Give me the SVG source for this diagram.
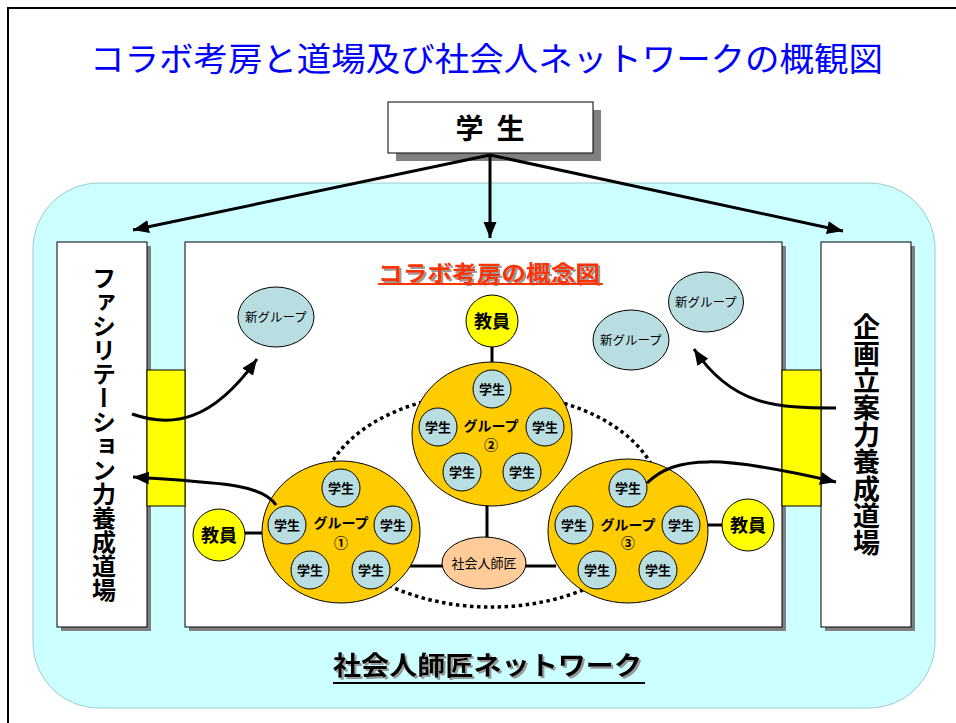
<svg xmlns="http://www.w3.org/2000/svg" width="956" height="723" viewBox="0 0 956 723">
<defs>
<marker id="ah" markerUnits="userSpaceOnUse" markerWidth="18" markerHeight="14" refX="16" refY="6.5" orient="auto"><path d="M0,0 L16,6.5 L0,13 z" fill="#000"/></marker>
<filter id="ts" x="-5%" y="-20%" width="110%" height="140%"><feDropShadow dx="2" dy="2" stdDeviation="0.3" flood-color="#999" flood-opacity="1"/></filter>
<style>
text{font-family:"Liberation Sans","Noto Sans CJK JP",sans-serif;fill:#000}
.b{font-weight:bold}
.st{font-size:13px;font-weight:bold;text-anchor:middle}
.gl{font-size:14px;font-weight:bold;text-anchor:middle}
.tc{font-size:18px;font-weight:bold;text-anchor:middle}
.ng{font-size:12.5px;text-anchor:middle}
.stu{fill:#B9DEE2;stroke:#000;stroke-width:1}
.grp{fill:#FFCC00;stroke:#000;stroke-width:1}
.tch{fill:#FFFF00;stroke:#000;stroke-width:1}
.box{fill:#fff;stroke:#000;stroke-width:1}
.sh{fill:#808080}
.ln{stroke:#000;stroke-width:3;fill:none}
.vt{font-weight:bold;writing-mode:vertical-rl;text-anchor:middle}
</style>
</defs>
<rect x="0" y="0" width="956" height="723" fill="#fff"/>
<rect x="8" y="8" width="960" height="730" fill="none" stroke="#000" stroke-width="2"/>
<text x="90" y="71" font-size="33" style="fill:#0000FF" textLength="793" lengthAdjust="spacingAndGlyphs">コラボ考房と道場及び社会人ネットワークの概観図</text>

<g id="network">
<rect x="33" y="183" width="902" height="525" rx="66" ry="66" fill="#CCFFFF" stroke="#9CC" stroke-width="1"/>
<text x="333" y="675" font-size="26" class="b" textLength="309" lengthAdjust="spacingAndGlyphs" filter="url(#ts)">社会人師匠ネットワーク</text>
<rect x="333" y="682" width="312" height="2" fill="#000"/>
</g>

<g id="student-top">
<rect x="396" y="110" width="205" height="51" class="sh"/>
<rect x="388" y="102" width="205" height="51" class="box"/>
<text x="490" y="139" font-size="28" class="b" text-anchor="middle" word-spacing="5">学 生</text>
</g>

<g id="facilitation">
<rect x="61" y="246" width="90" height="385" class="sh"/>
<rect x="57" y="242" width="90" height="385" class="box"/>
<text x="102" y="434" font-size="24" class="vt">ファシリテーション力養成道場</text>
</g>

<g id="planning">
<rect x="825" y="246" width="90" height="385" class="sh"/>
<rect x="821" y="242" width="90" height="385" class="box"/>
<text x="864" y="435" font-size="27" class="vt">企画立案力養成道場</text>
</g>

<g id="concept">
<rect x="189" y="246" width="597" height="385" class="sh"/>
<rect x="185" y="242" width="597" height="385" class="box"/>
<text x="378" y="281" font-size="22" class="b" textLength="222" lengthAdjust="spacingAndGlyphs" style="fill:#FF3300" filter="url(#ts)">コラボ考房の概念図</text>
<rect x="378" y="283" width="225" height="2" fill="#FF3300"/>
</g>

<g id="bridge-left"><rect x="147" y="370" width="38" height="136" fill="#FFFF00" stroke="#000" stroke-width="1"/></g>
<g id="bridge-right"><rect x="782" y="370" width="39" height="136" fill="#FFFF00" stroke="#000" stroke-width="1"/></g>

<g id="connectors">
<line x1="490" y1="155" x2="133" y2="230" class="ln" marker-end="url(#ah)"/>
<line x1="490" y1="155" x2="490" y2="238" class="ln" marker-end="url(#ah)"/>
<line x1="490" y1="155" x2="843" y2="231" class="ln" marker-end="url(#ah)"/>
<ellipse cx="491" cy="500" rx="170" ry="107" fill="none" stroke="#000" stroke-width="3.5" stroke-dasharray="3.5 3.5"/>
<line x1="492" y1="345" x2="492" y2="364" class="ln"/>
<line x1="243" y1="533" x2="264" y2="533" class="ln"/>
<line x1="706" y1="525" x2="724" y2="525" class="ln"/>
<line x1="487" y1="500" x2="487" y2="539" class="ln"/>
<line x1="405" y1="566" x2="444" y2="566" class="ln"/>
<line x1="524" y1="566" x2="556" y2="566" class="ln"/>
</g>

<g id="new-group-1"><ellipse cx="276" cy="317" rx="38" ry="30" class="stu"/><text x="276" y="322" class="ng">新グループ</text></g>
<g id="new-group-2"><ellipse cx="706" cy="302" rx="37.5" ry="30" class="stu"/><text x="706" y="307" class="ng">新グループ</text></g>
<g id="new-group-3"><ellipse cx="631" cy="340" rx="38" ry="30" class="stu"/><text x="631" y="345" class="ng">新グループ</text></g>

<g id="teacher-top"><circle cx="492" cy="321" r="26" class="tch"/><text x="492" y="328" class="tc">教員</text></g>
<g id="teacher-left"><circle cx="219" cy="535" r="26" class="tch"/><text x="219" y="542" class="tc">教員</text></g>
<g id="teacher-right"><circle cx="748" cy="525" r="26" class="tch"/><text x="748" y="532" class="tc">教員</text></g>

<g id="mentor"><ellipse cx="484" cy="563" rx="42" ry="26" fill="#FFCC99" stroke="#000" stroke-width="1"/><text x="484" y="568" font-size="13" text-anchor="middle">社会人師匠</text></g>

<g id="group-1">
<ellipse cx="341" cy="532" rx="79" ry="71" class="grp"/>
<text x="341" y="528" class="gl">グループ</text><text x="341" y="548" class="gl">①</text>
<circle cx="341" cy="488" r="19" class="stu"/><text x="341" y="493" class="st">学生</text>
<circle cx="287" cy="525" r="19" class="stu"/><text x="287" y="530" class="st">学生</text>
<circle cx="393" cy="525" r="19" class="stu"/><text x="393" y="530" class="st">学生</text>
<circle cx="310" cy="570" r="19" class="stu"/><text x="310" y="575" class="st">学生</text>
<circle cx="371" cy="570" r="19" class="stu"/><text x="371" y="575" class="st">学生</text>
</g>

<g id="group-2">
<ellipse cx="492" cy="434" rx="80" ry="72" class="grp"/>
<text x="491" y="431" class="gl">グループ</text><text x="491" y="450" class="gl">②</text>
<circle cx="492" cy="389" r="19" class="stu"/><text x="492" y="394" class="st">学生</text>
<circle cx="438" cy="427" r="19" class="stu"/><text x="438" y="432" class="st">学生</text>
<circle cx="545" cy="427" r="19" class="stu"/><text x="545" y="432" class="st">学生</text>
<circle cx="462" cy="472" r="19" class="stu"/><text x="462" y="477" class="st">学生</text>
<circle cx="522" cy="472" r="19" class="stu"/><text x="522" y="477" class="st">学生</text>
</g>

<g id="group-3">
<ellipse cx="628" cy="531" rx="80" ry="72" class="grp"/>
<text x="628" y="530" class="gl">グループ</text><text x="628" y="548" class="gl">③</text>
<circle cx="628" cy="488" r="19" class="stu"/><text x="628" y="493" class="st">学生</text>
<circle cx="574" cy="525" r="19" class="stu"/><text x="574" y="530" class="st">学生</text>
<circle cx="681" cy="525" r="19" class="stu"/><text x="681" y="530" class="st">学生</text>
<circle cx="597" cy="570" r="19" class="stu"/><text x="597" y="575" class="st">学生</text>
<circle cx="658" cy="570" r="19" class="stu"/><text x="658" y="575" class="st">学生</text>
</g>

<g id="flow-connectors">
<path d="M132,414 C172,428 212,422 257,359" class="ln" marker-end="url(#ah)"/>
<path d="M276,505 C262,484 222,483 133,477" class="ln" marker-end="url(#ah)"/>
<path d="M836,408 C776,408 732,406 694,349" class="ln" marker-end="url(#ah)"/>
<path d="M647,483 C676,455 720,455 836,482" class="ln" marker-end="url(#ah)"/>
</g>
</svg>
